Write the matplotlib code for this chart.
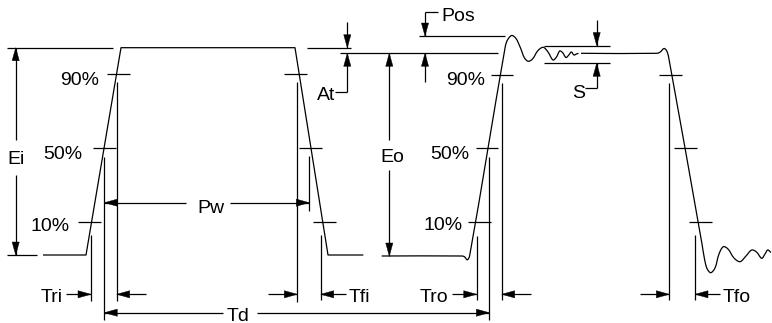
import numpy as np
import matplotlib.pyplot as plt
from matplotlib.path import Path
from matplotlib.patches import PathPatch, Polygon

plt.rcParams['font.family'] = ['Liberation Sans', 'DejaVu Sans']

# drawing works in pixel units of the 772x323 sheet (y grows downward)
W, H = 772, 323
LW = 0.9
FS = 14
HEAD_L, HEAD_W = 13, 3.6

# -- levels -------------------------------------------------------------
in_high, in_low = 47.7, 255
out_high, out_low = 53.3, 256
pos_level = 36
settle_band = [45.5, 63.3]

# -- input pulse (straight edges) ---------------------------------------
in_pulse_x = [43, 86, 121, 295, 328, 363.3]
in_pulse_y = [in_low, in_low, in_high, in_high, in_low, in_low]

# -- output pulse, rising edge + overshoot + ringing ---------------------
out_rise_x = [381.7, 462, 464.5, 467.3, 469.6, 505.2, 507.5, 511.7, 516, 520.5,
              524.5, 528.3, 532.5, 538, 543.3, 548, 553, 556.5, 559.7, 562.5,
              566, 568.8, 571.3, 574, 576.5, 578.5]
out_rise_y = [256, 256, 256.8, 259.8, 256, 47, 40, 35.5, 38.5, 48,
              58, 61.3, 59, 50.5, 47.3, 52, 60, 57, 51, 52.5,
              57.5, 55, 52, 55, 54, 53.3]

# -- output pulse, flat top + falling edge + ringing ---------------------
out_fall_x = [581, 657, 660.5, 664, 666.5, 668.6, 702, 704.5, 707, 710.7,
              715, 719, 723.3, 728, 734, 740, 746, 751.7, 756.5, 761.7,
              765, 767.7, 771]
out_fall_y = [53.3, 53.3, 51.8, 48.5, 50.5, 57, 244, 259, 268.5, 272.7,
              268, 254, 246.7, 249, 258, 261.7, 256, 250, 252, 258.3,
              254, 250, 252.5]

# -- 90/50/10 % marks ---------------------------------------------------
pct_labels = ["90%", "50%", "10%"]
in_tick_y = [74.3, 148.3, 222.3]
out_tick_y = [75, 148.3, 221.7]
tick_len = 22.5
in_rise_tick_x = [107, 93, 78]
in_fall_tick_x = [284, 299, 313]
out_rise_tick_x = [490.7, 475.7, 468.3]
out_fall_tick_x = [659.3, 674, 689.3]
in_label_right = [99, 82, 70]
in_label_base = [85, 159, 231]
out_label_right = [485, 469.3, 462.7]
out_label_base = [85, 159, 230]

# -- vertical extension lines (x, top, bottom) ----------------------------
ext_x = [91, 104.3, 116.7, 297.3, 309.3, 320.7, 476.7, 489.3, 501.7, 669.3, 695]
ext_top = [235, 156.7, 81.7, 81.7, 156, 235, 236, 156.7, 83.3, 83.3, 235]
ext_bot = [301, 320, 301, 301.7, 210.7, 300, 300, 320, 300, 300, 300]

# -- horizontal extension lines (x0, x1, y) -------------------------------
hext_x0 = [7, 7, 306.7, 340, 419.3, 544, 544]
hext_x1 = [113, 36.7, 351, 498.3, 505, 610, 610]
hext_y = [in_high, in_low, 47.7, out_high, pos_level, settle_band[0], settle_band[1]]

# -- rise / fall time dimensions ------------------------------------------
t_names = ["Tri", "Tfi", "Tro", "Tfo"]
t_start = [91, 297.3, 476.7, 669.3]
t_end = [116.7, 320.7, 501.7, 695]
t_label_side = ["left", "right", "left", "right"]
t_row = 294.3

# -- width / delay dimensions ----------------------------------------------
pw_span = [104.3, 309.3]
pw_row = 202.7
td_span = [104.3, 489.3]
td_row = 312.7


fig = plt.figure(figsize=(W / 100, H / 100), dpi=100)
ax = fig.add_axes([0, 0, 1, 1])
ax.set_xlim(0, W)
ax.set_ylim(H, 0)
ax.axis('off')


def line(xs, ys):
    ax.plot(xs, ys, color='k', lw=LW, solid_capstyle='butt')


def head(x, y, dx, dy):
    d = np.array([dx, dy], float)
    d /= np.hypot(*d)
    n = np.array([-d[1], d[0]])
    tip = np.array([x, y])
    base = tip - d * HEAD_L
    ax.add_patch(Polygon([tip, base + n * HEAD_W, base - n * HEAD_W],
                         closed=True, fc='k', ec='k', lw=0.3))


def arrow(x0, y0, x1, y1):
    line([x0, x1], [y0, y1])
    head(x1, y1, x1 - x0, y1 - y0)


def smooth(xs, ys):
    # chord-length Catmull-Rom through the knots, drawn as cubic beziers
    p = np.column_stack([xs, ys]).astype(float)
    t = np.concatenate([[0], np.cumsum(np.hypot(*np.diff(p, axis=0).T))])
    m = np.zeros_like(p)
    m[1:-1] = (p[2:] - p[:-2]) / (t[2:] - t[:-2])[:, None]
    m[0] = (p[1] - p[0]) / (t[1] - t[0])
    m[-1] = (p[-1] - p[-2]) / (t[-1] - t[-2])
    verts = [p[0]]
    codes = [Path.MOVETO]
    for i in range(len(p) - 1):
        h = t[i + 1] - t[i]
        verts += [p[i] + m[i] * h / 3, p[i + 1] - m[i + 1] * h / 3, p[i + 1]]
        codes += [Path.CURVE4] * 3
    ax.add_patch(PathPatch(Path(verts, codes), fill=False, ec='k', lw=LW))


def text(x, y, s, ha='center'):
    ax.text(x, y, s, fontsize=FS, ha=ha, va='baseline', color='k')


# waveforms
line(in_pulse_x, in_pulse_y)
smooth(out_rise_x, out_rise_y)
smooth(out_fall_x, out_fall_y)

# percentage ticks + labels
for tx_list, ty_list in [(in_rise_tick_x, in_tick_y), (in_fall_tick_x, in_tick_y),
                         (out_rise_tick_x, out_tick_y), (out_fall_tick_x, out_tick_y)]:
    for tx, ty in zip(tx_list, ty_list):
        line([tx, tx + tick_len], [ty, ty])
for lab, xr, yb in zip(pct_labels, in_label_right, in_label_base):
    text(xr, yb, lab, ha='right')
for lab, xr, yb in zip(pct_labels, out_label_right, out_label_base):
    text(xr, yb, lab, ha='right')

# extension lines
for x, y0, y1 in zip(ext_x, ext_top, ext_bot):
    line([x, x], [y0, y1])
for x0, x1, y in zip(hext_x0, hext_x1, hext_y):
    line([x0, x1], [y, y])

# Ei / Eo amplitude arrows
for x, top, bot, name, tx, gap in [(15.7, in_high, in_low, "Ei", 16.5, (140, 175)),
                                   (389.3, out_high, out_low, "Eo", 392.5, (140, 170))]:
    arrow(x, gap[0], x, top)
    arrow(x, gap[1], x, bot)
    text(tx, (gap[0] + gap[1]) / 2 + 6.5, name)

# At (input amplitude tolerance)
arrow(347.3, 21.7, 347.3, 47.7)
arrow(347.3, 91.7, 347.3, out_high)
line([335, 347.3], [91.7, 91.7])
text(335, 100, "At", ha='right')

# Pos (overshoot)
line([438, 425], [11.7, 11.7])
arrow(425, 11.7, 425, pos_level)
arrow(425, 81.7, 425, out_high)
text(441.5, 21, "Pos", ha='left')

# S (settling band)
arrow(596.7, 20, 596.7, settle_band[0])
arrow(596.7, 88.3, 596.7, settle_band[1])
line([585, 596.7], [88.3, 88.3])
text(585.5, 98, "S", ha='right')

# rise / fall time arrows
for name, a, b, side in zip(t_names, t_start, t_end, t_label_side):
    left_tail = 25 if side == 'left' else 29
    right_tail = 25 if side == 'right' else 29.5
    arrow(a - left_tail, t_row, a, t_row)
    arrow(b + right_tail, t_row, b, t_row)
    if side == 'left':
        text(a - left_tail - 3.5, t_row + 8, name, ha='right')
    else:
        text(b + right_tail + 3, t_row + 8, name, ha='left')

# Pw
arrow(186, pw_row, pw_span[0], pw_row)
arrow(230, pw_row, pw_span[1], pw_row)
text(210.7, pw_row + 10, "Pw")

# Td
arrow(223.3, td_row, td_span[0], td_row)
arrow(256.7, td_row, td_span[1], td_row)
text(238.5, td_row + 8, "Td")

fig.savefig('out.png', dpi=100)
